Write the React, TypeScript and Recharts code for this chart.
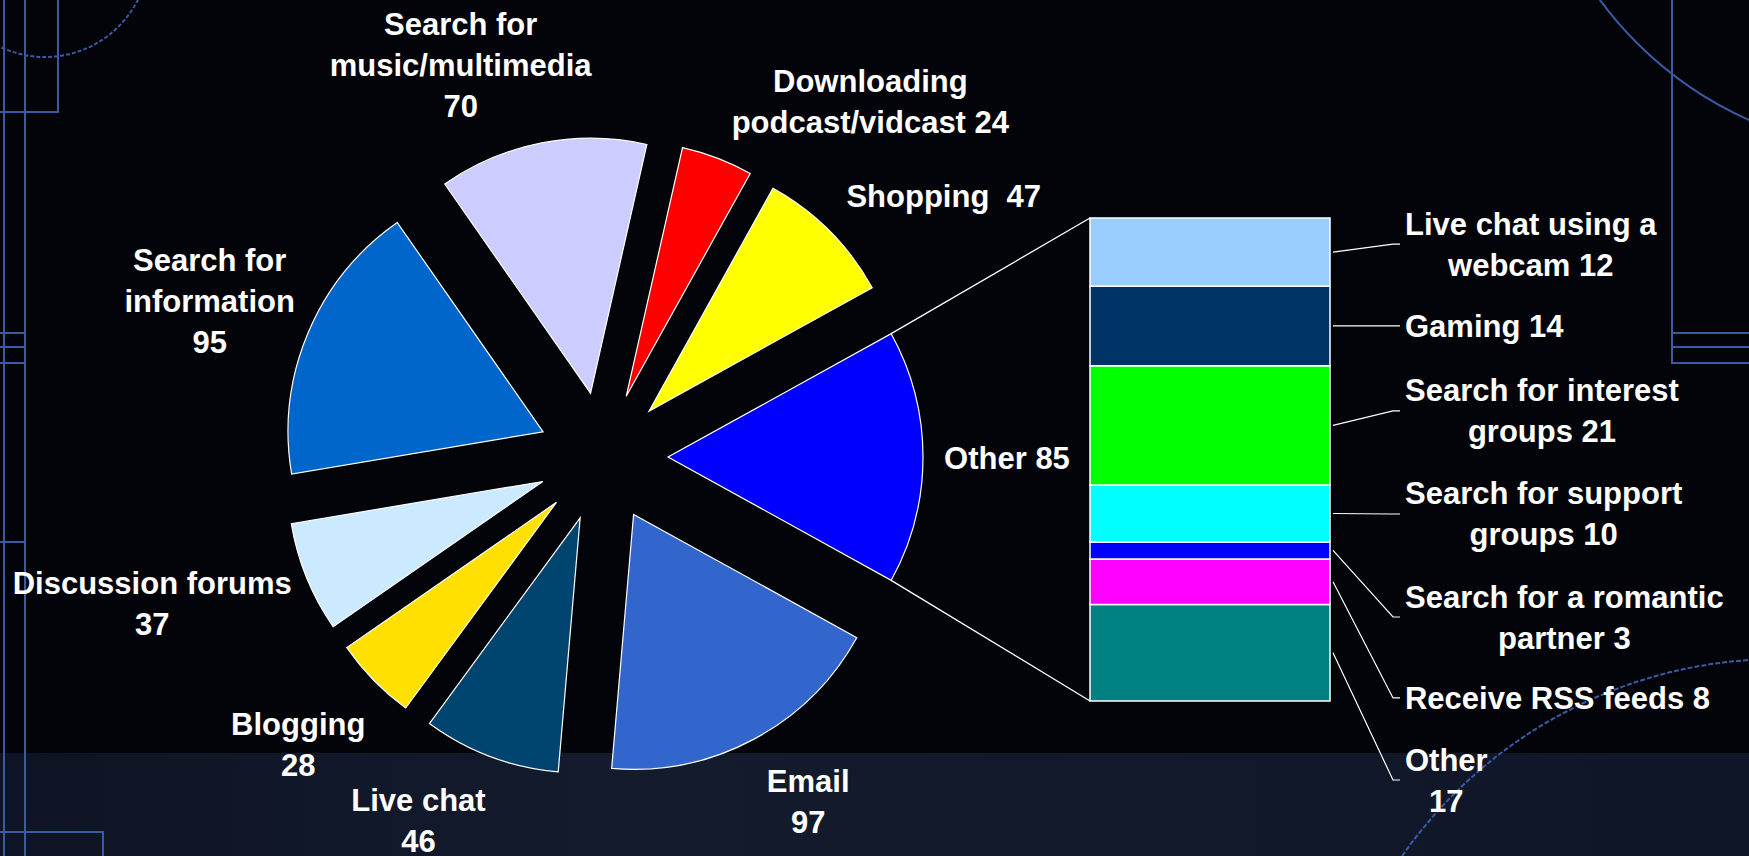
import React from 'react';
import { PieChart, Pie, Cell, Sector, BarChart, Bar, XAxis, YAxis } from 'recharts';

// ---- data ----
// Main pie, counter-clockwise starting with the "Other" slice that faces the bar
const pieCategories = [
  'Other',
  'Shopping',
  'Downloading podcast/vidcast',
  'Search for music/multimedia',
  'Search for information',
  'Discussion forums',
  'Blogging',
  'Live chat',
  'Email',
];
const pieValues = [85, 47, 24, 70, 95, 37, 28, 46, 97];
const pieColors = ['#0000ff', '#ffff00', '#ff0000', '#ccccff', '#0066cc', '#cceaff', '#ffe000', '#004570', '#3366cc'];
// label lines, {v} is replaced with the value
const pieLabelLines = [
  ['Other {v}'],
  ['Shopping  {v}'],
  ['Downloading', 'podcast/vidcast {v}'],
  ['Search for', 'music/multimedia', '{v}'],
  ['Search for', 'information', '{v}'],
  ['Discussion forums', '{v}'],
  ['Blogging', '{v}'],
  ['Live chat', '{v}'],
  ['Email', '{v}'],
];

// Breakdown of "Other", listed top to bottom
const barCategories = [
  'Live chat using a webcam',
  'Gaming',
  'Search for interest groups',
  'Search for support groups',
  'Search for a romantic partner',
  'Receive RSS feeds',
  'Other',
];
const barValues = [12, 14, 21, 10, 3, 8, 17];
const barColors = ['#99ccff', '#003366', '#00ff00', '#00ffff', '#0000ff', '#ff00ff', '#008080'];
const barLabelLines = [
  ['Live chat using a', 'webcam {v}'],
  ['Gaming {v}'],
  ['Search for interest', 'groups {v}'],
  ['Search for support', 'groups {v}'],
  ['Search for a romantic', 'partner {v}'],
  ['Receive RSS feeds {v}'],
  ['Other', '{v}'],
];

// ---- layout ----
const W = 1749;
const H = 856;
const PIE_CX = 603;
const PIE_CY = 457;
const PIE_R = 255;
const EXPLODE = 65;
const PIE_LABEL_R = [404, 429, 445, 417, 423, 474, 419, 408, 401];
const PIE_LABEL_TURN = [-0.2, -7.5, -16, 8.9, 1.2, -4.1, -0.9, -6.3, 2.7];
const BAR_LEFT = 1090;
const BAR_TOP = 218;
const BAR_BOTTOM = 701;
const BAR_W = 240;
const BAR_LABEL_LEFT = 1405;
const BAR_LABEL_SHIFT = [-8, 0, -14.5, 0.5, 66.6, 116.3, 127.3];
const FONT_SIZE = 31;
const LINE_H = 41;
const CAP_H = 22;
const FONT_FAMILY = '"Liberation Sans", Arial, Helvetica, sans-serif';
const DECOR = '#3a5aa2';

const pieTotal = pieValues.reduce((a, b) => a + b, 0);
const pieStart = -(pieValues[0] / pieTotal) * 180;
const pieData = pieCategories.map((name, i) => ({ name, value: pieValues[i] }));

const barRow: Record<string, string | number> = { name: 'Other' };
barCategories.forEach((c, i) => {
  barRow[c] = barValues[i];
});
const barData = [barRow];
const barTotal = barValues.reduce((a, b) => a + b, 0);

const fill = (s: string, v: number) => s.replace('{v}', String(v));

let measureCtx: CanvasRenderingContext2D | null = null;
const measure = (s: string) => {
  if (!measureCtx) measureCtx = document.createElement('canvas').getContext('2d');
  if (!measureCtx) return s.length * FONT_SIZE * 0.55;
  measureCtx.font = `bold ${FONT_SIZE}px ${FONT_FAMILY}`;
  return measureCtx.measureText(s).width;
};

const Lines = ({ x, yCenter, lines }: { x: number; yCenter: number; lines: string[] }) => {
  const first = yCenter - ((lines.length - 1) * LINE_H) / 2 + CAP_H / 2;
  return (
    <text
      x={x}
      y={first}
      textAnchor="middle"
      fill="#ffffff"
      fontFamily={FONT_FAMILY}
      fontWeight="bold"
      fontSize={FONT_SIZE}
      style={{ whiteSpace: 'pre' }}
    >
      {lines.map((l, i) => (
        <tspan key={i} x={x} dy={i === 0 ? 0 : LINE_H}>
          {l}
        </tspan>
      ))}
    </text>
  );
};

// exploded slice: every sector is pushed out along its bisector
const renderSlice = (props: any) => {
  const { cx, cy, midAngle, innerRadius, outerRadius, startAngle, endAngle } = props;
  const rad = (midAngle * Math.PI) / 180;
  return (
    <Sector
      cx={cx + EXPLODE * Math.cos(rad)}
      cy={cy - EXPLODE * Math.sin(rad)}
      innerRadius={innerRadius}
      outerRadius={outerRadius}
      startAngle={startAngle}
      endAngle={endAngle}
      fill={props.fill}
      stroke="#ffffff"
      strokeWidth={1.2}
    />
  );
};

const renderPieLabel = (props: any) => {
  const { midAngle, index, cx, cy } = props;
  const a = ((midAngle + PIE_LABEL_TURN[index]) * Math.PI) / 180;
  const x = cx + PIE_LABEL_R[index] * Math.cos(a);
  const y = cy - PIE_LABEL_R[index] * Math.sin(a);
  const lines = pieLabelLines[index].map((s) => fill(s, pieValues[index]));
  return <Lines key={`pl-${index}`} x={x} yCenter={y} lines={lines} />;
};

const makeBarLabel = (i: number) => (props: any) => {
  const vb = props.viewBox && props.viewBox.width !== undefined ? props.viewBox : props;
  const x = Number(vb.x);
  const y = Number(vb.y);
  const w = Number(vb.width);
  const h = Number(vb.height);
  const top = Math.min(y, y + h);
  const mid = top + Math.abs(h) / 2;
  const start = x + w + 3;
  const yc = mid + BAR_LABEL_SHIFT[i];
  const lines = barLabelLines[i].map((s) => fill(s, barValues[i]));
  const blockW = Math.max(...lines.map(measure));
  return (
    <g key={`bl-${i}`}>
      <polyline
        points={`${start},${mid} ${BAR_LABEL_LEFT - 12},${yc} ${BAR_LABEL_LEFT - 5},${yc}`}
        fill="none"
        stroke="#ffffff"
        strokeWidth={1.2}
      />
      <Lines x={BAR_LABEL_LEFT + blockW / 2} yCenter={yc} lines={lines} />
    </g>
  );
};

const Background = () => (
  <svg width={W} height={H} style={{ position: 'absolute', left: 0, top: 0 }}>
    <defs>
      <linearGradient id="band" x1="0" x2="1" y1="0" y2="0">
        <stop offset="0" stopColor="#0e1424" />
        <stop offset="0.35" stopColor="#131b2c" />
        <stop offset="1" stopColor="#0f1627" />
      </linearGradient>
    </defs>
    <rect x={0} y={0} width={W} height={H} fill="#030409" />
    <rect x={0} y={753} width={W} height={H - 753} fill="url(#band)" />
    <g stroke={DECOR} strokeWidth={2} fill="none">
      <line x1={4} y1={0} x2={4} y2={H} />
      <line x1={25} y1={0} x2={25} y2={H} />
      <polyline points="0,112 58,112 58,0" />
      <line x1={0} y1={333} x2={25} y2={333} />
      <line x1={0} y1={347} x2={25} y2={347} />
      <line x1={0} y1={363} x2={25} y2={363} />
      <line x1={0} y1={542} x2={25} y2={542} />
      <polyline points={`0,832 103,832 103,${H}`} />
      <polyline points={`1672,0 1672,363 ${W},363`} />
      <line x1={1672} y1={333} x2={W} y2={333} />
      <line x1={1672} y1={347} x2={W} y2={347} />
      <circle cx={45} cy={-47} r={104} strokeDasharray="4 2" />
      <circle cx={1900} cy={-220} r={372} />
      <circle cx={1780} cy={1120} r={461} strokeDasharray="5 2" />
    </g>
  </svg>
);

// lines joining the "Other" slice to the breakdown bar
const Connectors = () => {
  const half = ((pieValues[0] / pieTotal) * 180 * Math.PI) / 180;
  const ox = PIE_CX + EXPLODE;
  const topPt = [ox + PIE_R * Math.cos(half), PIE_CY - PIE_R * Math.sin(half)];
  const botPt = [ox + PIE_R * Math.cos(half), PIE_CY + PIE_R * Math.sin(half)];
  return (
    <svg width={W} height={H} style={{ position: 'absolute', left: 0, top: 0, pointerEvents: 'none' }}>
      <line x1={topPt[0]} y1={topPt[1]} x2={BAR_LEFT} y2={BAR_TOP} stroke="#ffffff" strokeWidth={1.3} />
      <line x1={botPt[0]} y1={botPt[1]} x2={BAR_LEFT} y2={BAR_BOTTOM} stroke="#ffffff" strokeWidth={1.3} />
    </svg>
  );
};

export default function App() {
  const stackOrder = barCategories.map((_, i) => i).reverse();
  return (
    <div style={{ position: 'fixed', left: 0, top: 0, width: W, height: H, overflow: 'hidden' }}>
      <Background />
      <div style={{ position: 'absolute', left: 0, top: 0 }}>
        <PieChart width={W} height={H} margin={{ top: 0, right: 0, bottom: 0, left: 0 }}>
          <Pie
            data={pieData}
            dataKey="value"
            nameKey="name"
            cx={PIE_CX}
            cy={PIE_CY}
            innerRadius={0}
            outerRadius={PIE_R}
            startAngle={pieStart}
            endAngle={pieStart + 360}
            stroke="#ffffff"
            strokeWidth={1.2}
            shape={renderSlice}
            label={renderPieLabel}
            labelLine={false}
            isAnimationActive={false}
          >
            {pieData.map((d, i) => (
              <Cell key={d.name} fill={pieColors[i]} />
            ))}
          </Pie>
        </PieChart>
      </div>
      <div style={{ position: 'absolute', left: 0, top: 0 }}>
        <BarChart
          width={W}
          height={H}
          data={barData}
          margin={{ top: BAR_TOP, bottom: H - BAR_BOTTOM, left: BAR_LEFT, right: W - BAR_LEFT - BAR_W }}
          barCategoryGap={0}
          barGap={0}
        >
          <XAxis dataKey="name" type="category" hide />
          <YAxis type="number" domain={[0, barTotal]} hide />
          {stackOrder.map((i) => (
            <Bar
              key={barCategories[i]}
              dataKey={barCategories[i]}
              stackId="other"
              fill={barColors[i]}
              stroke="#ffffff"
              strokeWidth={1.5}
              label={makeBarLabel(i)}
              isAnimationActive={false}
            />
          ))}
        </BarChart>
      </div>
      <Connectors />
    </div>
  );
}
